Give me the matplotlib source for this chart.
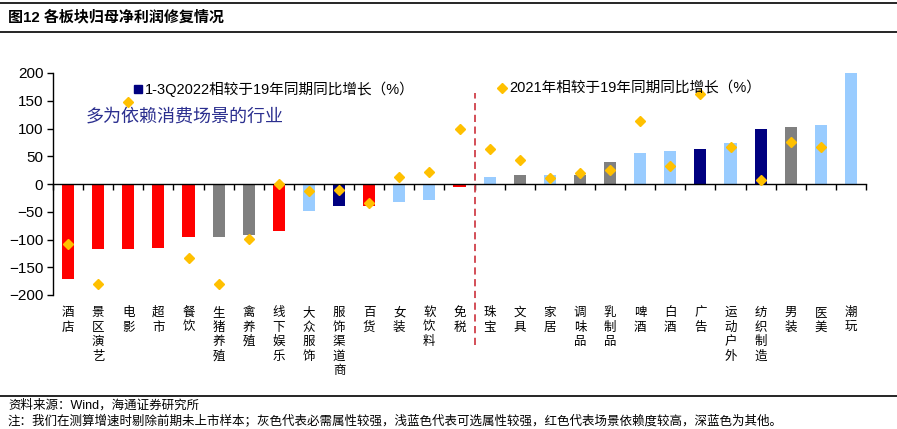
import matplotlib.pyplot as plt
from matplotlib.lines import Line2D
import matplotlib.transforms as mtransforms
import numpy as np

plt.rcParams['font.family'] = ['Liberation Sans', 'Noto Sans CJK SC', 'DejaVu Sans']

# 行业与数据
names = ['酒店', '景区演艺', '电影', '超市', '餐饮', '生猪养殖', '禽养殖', '线下娱乐',
         '大众服饰', '服饰渠道商', '百货', '女装', '软饮料', '免税', '珠宝', '文具',
         '家居', '调味品', '乳制品', '啤酒', '白酒', '广告', '运动户外', '纺织制造',
         '男装', '医美', '潮玩']
growth_2022 = [-171, -117, -117, -115, -96, -96, -92, -84, -48, -40, -40, -32, -29, -5,
               12, 17, 17, 17, 40, 56, 59, 63, 73, 99, 102, 106, 200]
growth_2021 = [-108, -181, 148, np.nan, -134, -181, -99, 0, -12, -11, -35, 13, 21, 99,
               63, 43, 10, 20, 26, 114, 33, 162, 67, 7, 76, 66, np.nan]
# r=场景依赖, g=必需, b=可选, n=其他
groups = ['r', 'r', 'r', 'r', 'r', 'g', 'g', 'r', 'b', 'n', 'r', 'b', 'b', 'r',
          'b', 'g', 'b', 'g', 'g', 'b', 'b', 'n', 'b', 'n', 'g', 'b', 'b']
group_colors = {'r': '#FF0000', 'g': '#808080', 'b': '#99CCFF', 'n': '#000080'}

fig = plt.figure(figsize=(8.97, 4.29), dpi=100)
ax = fig.add_axes([53 / 897, 1 - 295 / 429, 813 / 897, 222 / 429])

x = np.arange(len(names))
colors = [group_colors[g] for g in groups]
ax.bar(x, growth_2022, width=0.4, color=colors, zorder=2)
ax.plot(x, growth_2021, 'D', color='#FFC000', markersize=5, linestyle='none', zorder=3)

ax.set_xlim(-0.5, len(names) - 0.5)
ax.set_ylim(-200, 200)
ax.set_yticks(np.arange(-200, 201, 50))
ax.tick_params(axis='y', direction='out', length=4, width=1, labelsize=11, pad=3)

for s in ['top', 'right']:
    ax.spines[s].set_visible(False)
ax.spines['left'].set_linewidth(1)
ax.spines['bottom'].set_position(('data', 0))
ax.spines['bottom'].set_linewidth(1)
ax.set_xticks(np.arange(-0.5, len(names), 1.0))
ax.set_xticklabels([])
ax.tick_params(axis='x', direction='out', length=4, width=1)

# 竖排的行业名称
trans = mtransforms.blended_transform_factory(ax.transData, ax.transAxes)
for i, n in enumerate(names):
    ax.text(i, -0.05, '\n'.join(n), transform=trans, ha='center', va='top',
            fontsize=9, linespacing=1.15, family=['Noto Sans CJK SC'])

# 分隔虚线
ax.axvline(13.5, ymin=-0.225, ymax=0.91, color='#D0404A', lw=1.3,
           linestyle=(0, (4, 2.5)), clip_on=False, zorder=4)

ax.text(0.6, 122, '多为依赖消费场景的行业', fontsize=13, color='#2B2F8F',
        va='center', ha='left', family=['Noto Sans CJK SC'])

h1 = Line2D([], [], marker='s', color='#000080', linestyle='none', markersize=6)
h2 = Line2D([], [], marker='D', color='#FFC000', linestyle='none', markersize=5)
leg1 = ax.legend([h1], ['1-3Q2022相较于19年同期同比增长（%）'], loc='upper left',
                 bbox_to_anchor=(0.083, 1.02), frameon=False, fontsize=10.5,
                 handlelength=0.6, handletextpad=0.15)
ax.add_artist(leg1)
ax.legend([h2], ['2021年相较于19年同期同比增长（%）'], loc='upper left',
          bbox_to_anchor=(0.531, 1.02), frameon=False, fontsize=10.5,
          handlelength=0.6, handletextpad=0.2)

# 标题与注释
fig.add_artist(Line2D([0, 1], [1 - 3 / 429, 1 - 3 / 429], color='black', lw=1.2))
fig.add_artist(Line2D([0, 1], [1 - 32 / 429, 1 - 32 / 429], color='black', lw=1.2))
fig.add_artist(Line2D([0, 1], [1 - 396 / 429, 1 - 396 / 429], color='black', lw=1.2))
fig.text(8 / 897, 1 - 17 / 429, '图12 各板块归母净利润修复情况', fontsize=10.8,
         fontweight='bold', va='center', ha='left')
fig.text(8 / 897, 1 - 405 / 429, '资料来源：Wind，海通证券研究所', fontsize=9,
         va='center', ha='left')
fig.text(8 / 897, 1 - 421 / 429,
         '注：我们在测算增速时剔除前期未上市样本；灰色代表必需属性较强，浅蓝色代表可选属性较强，'
         '红色代表场景依赖度较高，深蓝色为其他。', fontsize=9, va='center', ha='left',
         family=['Noto Sans CJK SC'])

fig.savefig('out.png', dpi=100)
